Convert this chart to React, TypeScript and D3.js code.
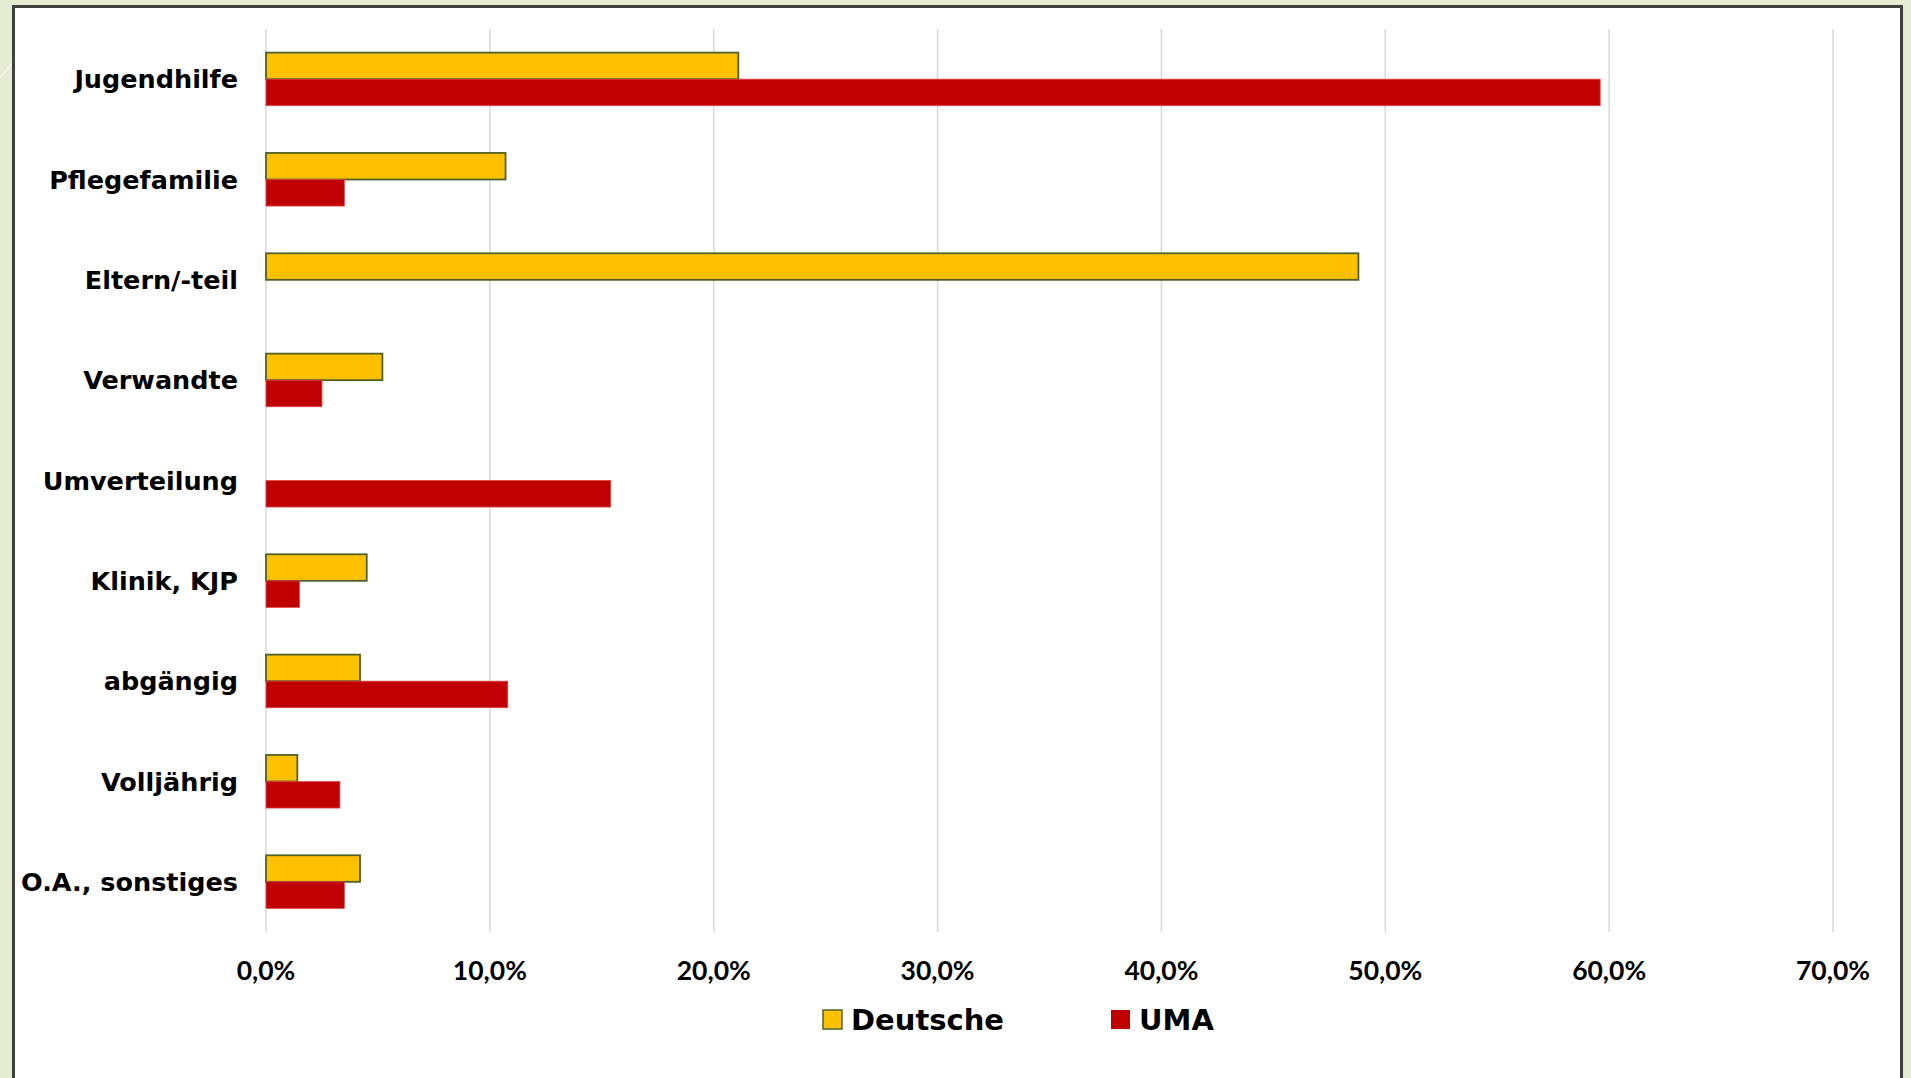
import React from "react";
import * as d3 from "d3";

const categories = [
  "Jugendhilfe",
  "Pflegefamilie",
  "Eltern/-teil",
  "Verwandte",
  "Umverteilung",
  "Klinik, KJP",
  "abgängig",
  "Volljährig",
  "O.A., sonstiges",
];
const seriesNames = ["Deutsche", "UMA"];
const deutsche = [0.211, 0.107, 0.488, 0.052, 0, 0.045, 0.042, 0.014, 0.042];
const uma = [0.596, 0.035, 0, 0.025, 0.154, 0.015, 0.108, 0.033, 0.035];
const ticks = [0, 0.1, 0.2, 0.3, 0.4, 0.5, 0.6, 0.7];
const colors = ["#FFC000", "#C00000"];
const strokes = ["#4F6228", "#E04848"];

const W = 1911;
const H = 1078;
const FONT = "Lato, 'Open Sans', sans-serif";
const WIDE = "'DejaVu Sans', sans-serif";

export default function App() {
  const x = d3.scaleLinear().domain([0, 0.7]).range([266, 1833]);
  const y = d3.scaleBand<string>().domain(categories).range([29, 932]).padding(0);
  const inner = d3
    .scaleBand<string>()
    .domain(seriesNames)
    .range([0, y.bandwidth()])
    .paddingInner(0)
    .paddingOuter(0.89);
  const values = [deutsche, uma];
  const fmt = (v: number) => d3.format(".1f")(v * 100).replace(".", ",") + "%";

  return (
    <svg
      width={W}
      height={H}
      style={{ position: "absolute", left: 0, top: 0, display: "block" }}
    >
      <rect x={0} y={0} width={W} height={H} fill="#E6EBD3" />
      <line x1={0} y1={78} x2={40} y2={30} stroke="#F4F6EA" strokeWidth={1.5} />
      <rect x={13.5} y={6.5} width={1888} height={H} fill="#FFFFFF" stroke="#404040" strokeWidth={3} />
      {ticks.map((t) => (
        <line
          key={"g" + t}
          x1={x(t)}
          x2={x(t)}
          y1={29}
          y2={932}
          stroke="#D9D9D9"
          strokeWidth={1.5}
        />
      ))}
      {categories.map((c, i) => (
        <g key={c}>
          {seriesNames.map((s, j) => {
            const v = values[j][i];
            if (!v) return null;
            const y0 = (y(c) as number) + (inner(s) as number);
            return (
              <rect
                key={s}
                x={x(0)}
                y={y0}
                width={x(v) - x(0)}
                height={inner.bandwidth()}
                fill={colors[j]}
                stroke={strokes[j]}
                strokeWidth={j === 0 ? 1.8 : 0.8}
              />
            );
          })}
          <text
            x={238}
            y={(y(c) as number) + y.bandwidth() / 2}
            dy="0.36em"
            textAnchor="end"
            fontFamily={WIDE}
            fontWeight={700}
            fontSize={25.5}
            fill="#000"
          >
            {c}
          </text>
        </g>
      ))}
      {ticks.map((t) => (
        <text
          key={"t" + t}
          x={x(t)}
          y={970}
          dy="0.36em"
          textAnchor="middle"
          fontFamily={FONT}
          fontWeight={700}
          fontSize={26.5}
          fill="#000"
        >
          {fmt(t)}
        </text>
      ))}
      {seriesNames.map((s, j) => {
        const lx = j === 0 ? 823 : 1111;
        return (
          <g key={"l" + s}>
            <rect
              x={lx}
              y={1010}
              width={19}
              height={19}
              fill={colors[j]}
              stroke={j === 0 ? strokes[0] : "none"}
              strokeWidth={1.5}
            />
            <text
              x={lx + 28}
              y={1020}
              dy="0.36em"
              fontFamily={WIDE}
              fontWeight={700}
              fontSize={29}
              fill="#000"
            >
              {s}
            </text>
          </g>
        );
      })}
    </svg>
  );
}
